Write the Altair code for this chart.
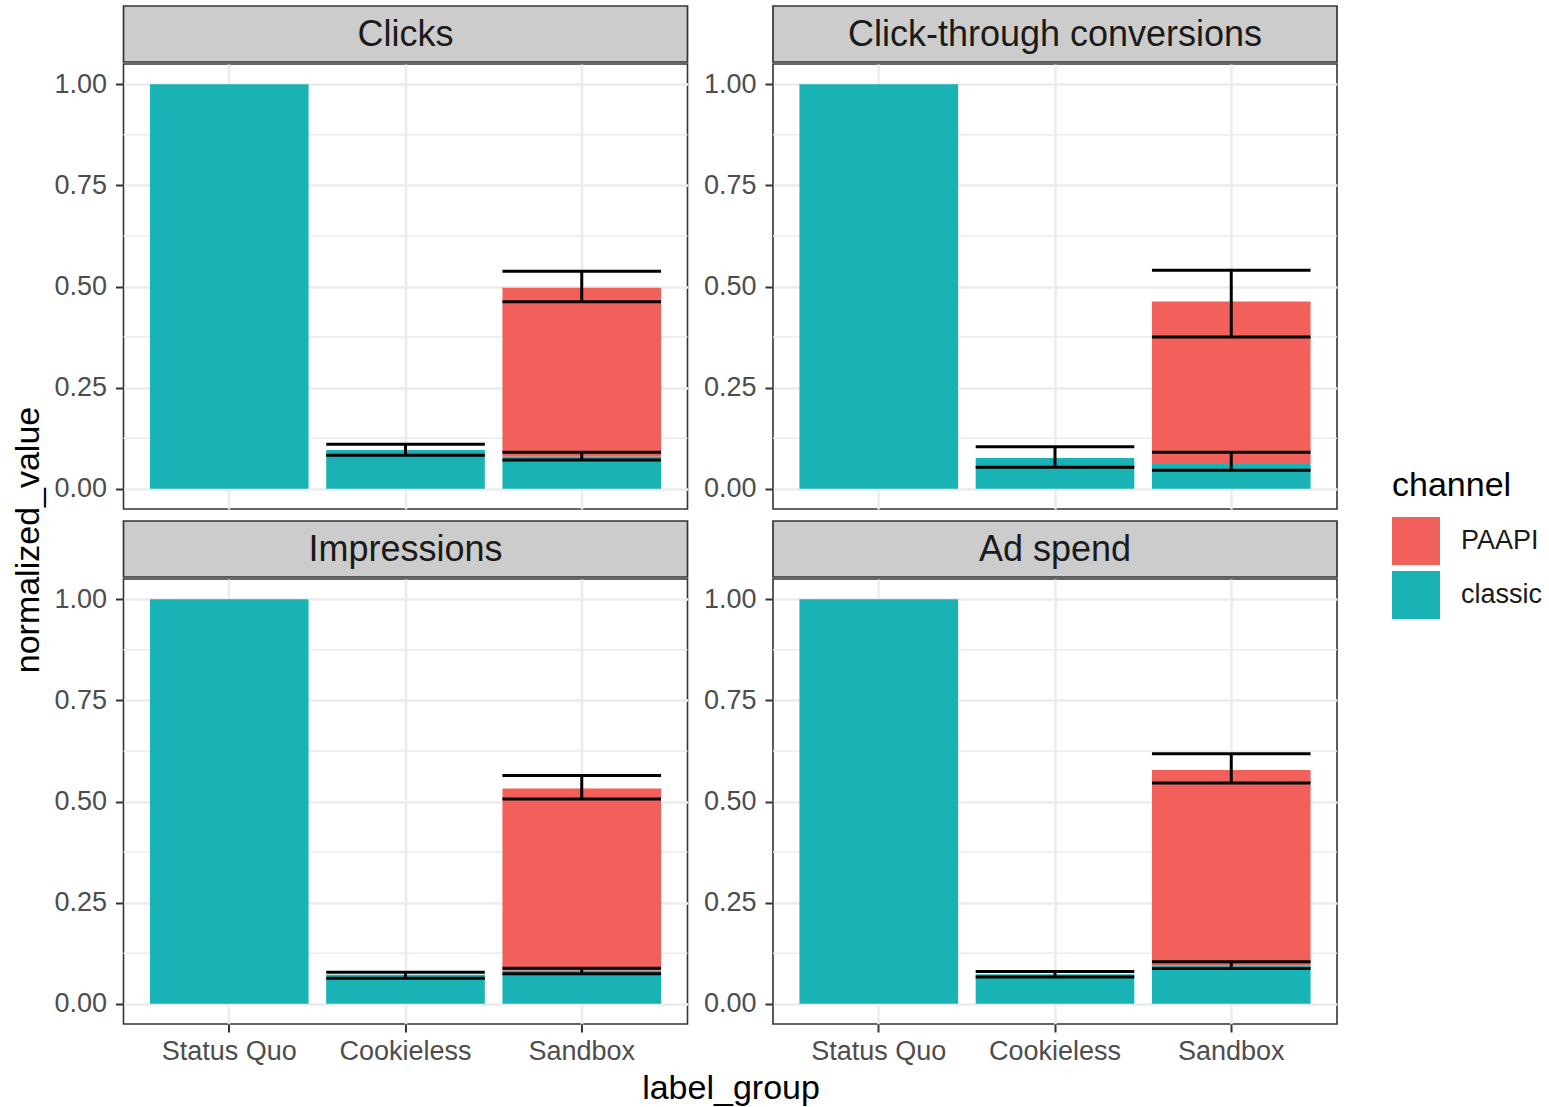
import altair as alt
import pandas as pd

FONT = "Liberation Sans"

# Facets, in reading order (top-left, top-right, bottom-left, bottom-right)
metrics = ["Clicks", "Click-through conversions", "Impressions", "Ad spend"]
label_groups = ["Status Quo", "Cookieless", "Sandbox"]
channels = ["PAAPI", "classic"]
channel_colors = ["#F2605B", "#19B2B5"]

# classic channel value for Status Quo / Cookieless / Sandbox, one list per metric
classic_clicks = [1.0, 0.096, 0.080]
classic_ctc = [1.0, 0.076, 0.064]
classic_impressions = [1.0, 0.072, 0.082]
classic_adspend = [1.0, 0.073, 0.095]

# PAAPI channel value (Sandbox only), per metric
paapi_sandbox = [0.417, 0.399, 0.450, 0.483]

# error bar bounds per metric (absolute y positions)
cookieless_lo = [0.083, 0.053, 0.063, 0.066]
cookieless_hi = [0.110, 0.104, 0.078, 0.080]
sandbox_classic_lo = [0.071, 0.046, 0.074, 0.087]
sandbox_classic_hi = [0.090, 0.090, 0.088, 0.104]
sandbox_total_lo = [0.462, 0.375, 0.506, 0.546]
sandbox_total_hi = [0.538, 0.540, 0.564, 0.618]

y_breaks = [0.0, 0.25, 0.5, 0.75, 1.0]
y_minor_breaks = [0.125, 0.375, 0.625, 0.875]

# ---- tables ----
classic_by_metric = [classic_clicks, classic_ctc, classic_impressions, classic_adspend]
bar_rows = []
for m, classic_vals, paapi in zip(metrics, classic_by_metric, paapi_sandbox):
    for g, v in zip(label_groups, classic_vals):
        bar_rows.append({"metric": m, "label_group": g, "channel": "classic", "normalized_value": v})
    bar_rows.append({"metric": m, "label_group": "Sandbox", "channel": "PAAPI", "normalized_value": paapi})
bars_df = pd.DataFrame(bar_rows)

err_rows = []
for i, m in enumerate(metrics):
    err_rows.append({"metric": m, "label_group": "Cookieless", "lo": cookieless_lo[i], "hi": cookieless_hi[i]})
    err_rows.append({"metric": m, "label_group": "Sandbox", "lo": sandbox_classic_lo[i], "hi": sandbox_classic_hi[i]})
    err_rows.append({"metric": m, "label_group": "Sandbox", "lo": sandbox_total_lo[i], "hi": sandbox_total_hi[i]})
errs_df = pd.DataFrame(err_rows)

# ---- geometry ----
W, H, STRIP_H = 564, 445, 56
STEP = W / 3.2
BAND = STEP * 0.9

GRID = "#EBEBEB"
TEXT_GREY = "#4D4D4D"
LINE = "#333333"

x_scale = alt.Scale(domain=label_groups, paddingInner=0.1, paddingOuter=0.15)
y_scale = alt.Scale(domain=[-0.05, 1.05], nice=False, zero=False)

y_axis = alt.Axis(
    values=y_breaks, format=".2f", title=None, domain=False,
    labelFontSize=27, labelColor=TEXT_GREY, labelFont=FONT, labelPadding=9,
    tickSize=8, tickWidth=2, tickColor=LINE,
    grid=True, gridColor=GRID, gridWidth=2.5,
)
x_axis_bottom = alt.Axis(
    title=None, domain=False, labelAngle=0,
    labelFontSize=27, labelColor=TEXT_GREY, labelFont=FONT, labelPadding=6,
    tickSize=8, tickWidth=2, tickColor=LINE,
    grid=True, gridColor=GRID, gridWidth=2.5,
)
x_axis_top = alt.Axis(
    title=None, domain=False, labels=False, ticks=False,
    grid=True, gridColor=GRID, gridWidth=2.5,
)

legend = alt.Legend(
    title="channel", orient="none", legendX=1386, legendY=463, padding=0,
    titleFontSize=34, titleFont=FONT, titleFontWeight="normal", titleColor="black", titlePadding=14,
    labelFontSize=27, labelFont=FONT, labelColor="#1A1A1A", labelOffset=21,
    symbolType="square", symbolSize=2304, symbolStrokeWidth=0, symbolOpacity=1, rowPadding=6,
)


def strip(metric):
    return (
        alt.Chart(pd.DataFrame({"metric": [metric]}))
        .mark_text(fontSize=36, font=FONT, color="#1A1A1A", align="center", baseline="middle")
        .encode(text="metric:N", x=alt.value(W / 2), y=alt.value(STRIP_H / 2 + 1))
        .properties(width=W, height=STRIP_H,
                    view=alt.ViewBackground(fill="#CCCCCC", stroke=LINE, strokeWidth=1.7))
    )


def panel(metric, bottom):
    x_axis = x_axis_bottom if bottom else x_axis_top
    x_enc = alt.X("label_group:N", sort=label_groups, scale=x_scale, axis=x_axis)

    minor = (
        alt.Chart(pd.DataFrame({"minor": y_minor_breaks}))
        .mark_rule(color=GRID, strokeWidth=1.5)
        .encode(y=alt.Y("minor:Q", scale=y_scale, axis=y_axis))
    )
    bars = (
        alt.Chart(bars_df)
        .transform_filter(alt.datum.metric == metric)
        .transform_calculate(stack_rank="datum.channel === 'classic' ? 0 : 1")
        .mark_bar()
        .encode(
            x=x_enc,
            y=alt.Y("normalized_value:Q", stack="zero", scale=y_scale, axis=y_axis),
            color=alt.Color("channel:N", scale=alt.Scale(domain=channels, range=channel_colors), legend=legend),
            order=alt.Order("stack_rank:Q"),
        )
    )
    err_base = alt.Chart(errs_df).transform_filter(alt.datum.metric == metric)
    stems = err_base.mark_rule(color="black", strokeWidth=3).encode(
        x=x_enc,
        y=alt.Y("lo:Q", scale=y_scale, axis=y_axis),
        y2="hi:Q",
    )
    caps = (
        err_base.transform_fold(["lo", "hi"], as_=["end", "bound"])
        .mark_tick(color="black", thickness=3, size=BAND, opacity=1)
        .encode(x=x_enc, y=alt.Y("bound:Q", scale=y_scale, axis=y_axis))
    )
    return alt.layer(minor, bars, stems, caps).properties(
        width=W, height=H, view=alt.ViewBackground(stroke=LINE, strokeWidth=1.6)
    )


def cell(i, bottom):
    return alt.vconcat(strip(metrics[i]), panel(metrics[i], bottom), spacing=0)


row1 = alt.hconcat(cell(0, False), cell(1, False), spacing=12.5)
row2 = alt.hconcat(cell(2, True), cell(3, True), spacing=12.5)
grid = alt.vconcat(row1, row2, spacing=10)

no_frame = alt.ViewBackground(stroke="transparent")

y_title = (
    alt.Chart(pd.DataFrame({"t": ["normalized_value"]}))
    .mark_text(angle=270, fontSize=34, font=FONT, color="black", align="center", baseline="middle")
    .encode(text="t:N", x=alt.value(23), y=alt.value(534))
    .properties(width=40, height=1010, view=no_frame)
)
x_title = (
    alt.Chart(pd.DataFrame({"t": ["label_group"]}))
    .mark_text(fontSize=34, font=FONT, color="black", align="center", baseline="alphabetic")
    .encode(text="t:N", x=alt.value(725), y=alt.value(33))
    .properties(width=1330, height=42, view=no_frame)
)

body = alt.hconcat(y_title, grid, spacing=5.5)
chart = (
    alt.vconcat(body, x_title, spacing=0)
    .properties(padding={"left": 5, "top": 5, "right": 5, "bottom": 5})
    .configure(font=FONT)
    .configure_view(stroke=LINE, strokeWidth=1.6)
)

chart.save("out.html", embed_options={"renderer": "svg", "actions": False})
